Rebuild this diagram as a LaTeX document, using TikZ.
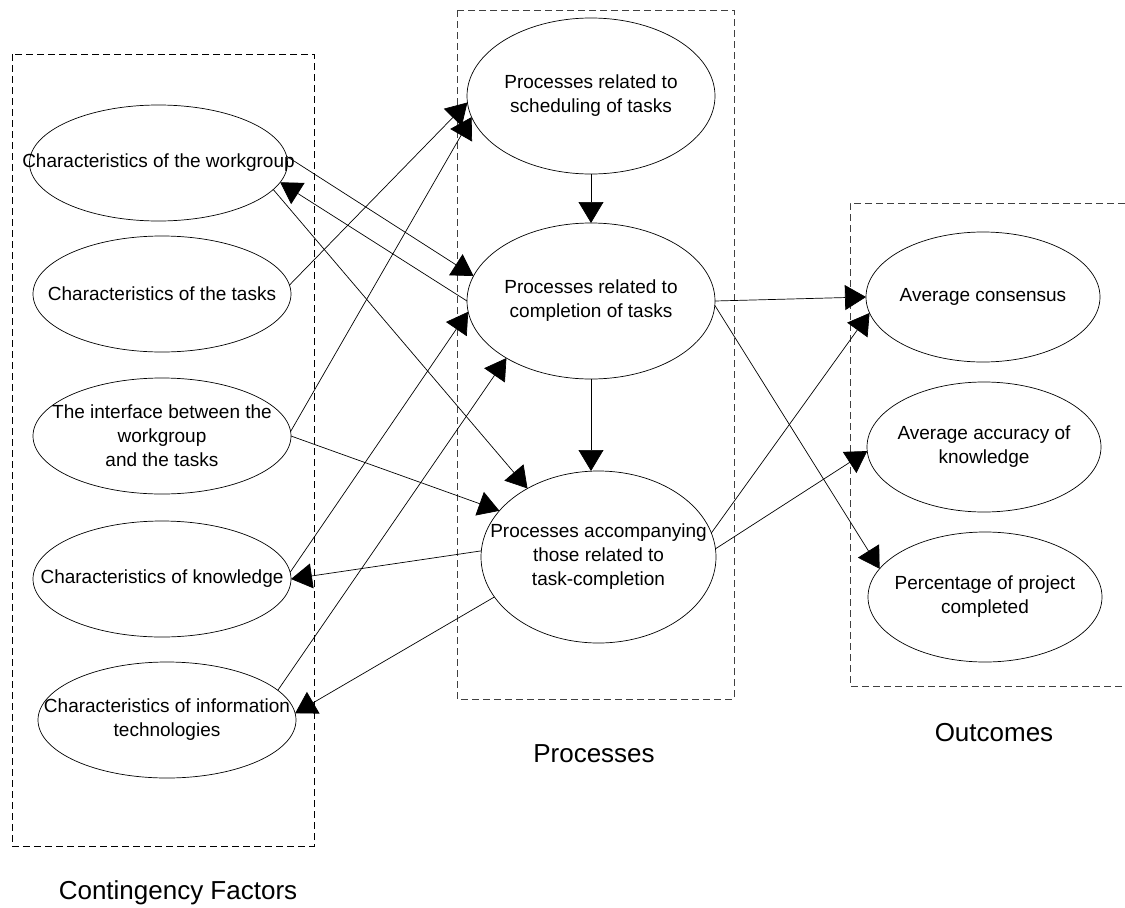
\documentclass[tikz,border=0pt]{standalone}
\usepackage{fontspec}
\setmainfont{Liberation Sans}
\usetikzlibrary{shapes.geometric,arrows.meta}
\begin{document}
\begin{tikzpicture}[x=1pt,y=-1pt]
\tikzset{
 ell/.style={ellipse, draw, line width=0.7pt, inner sep=0pt, outer sep=0pt},
 lft/.style={ell, minimum width=258pt, minimum height=116pt},
 prc/.style={ell, minimum width=248pt, minimum height=156pt},
 outc/.style={ell, minimum width=234pt, minimum height=130pt},
 txt/.style={font=\fontsize{19}{24}\selectfont, align=center, inner sep=0pt},
 grp/.style={font=\fontsize{26}{30}\selectfont, inner sep=0pt, anchor=base},
 dbox/.style={draw, dash pattern=on 7pt off 4pt, line width=0.8pt},
 con/.style={line width=0.7pt, -{Triangle[length=21pt,width=25pt]}},
}
\useasboundingbox (0,0) rectangle (1125,908);
% group boxes
\draw[dbox] (12,54) rectangle (314,846);
\draw[dbox, black!75] (457,10) rectangle (734,699);
\draw[dbox, black!75] (1125,203) -- (850,203) -- (850,686) -- (1125,686);
% contingency factors
\node[lft, label={[txt]center:Characteristics of the workgroup}] (W) at (158.5,163) {};
\node[lft, label={[txt]center:Characteristics of the tasks}] (T) at (162,294) {};
\node[lft, label={[txt]center:{The interface between the\\workgroup\\and the tasks}}] (I) at (162,436) {};
\node[lft, label={[txt]center:Characteristics of knowledge}] (K) at (162,579) {};
\node[lft, label={[txt]center:{Characteristics of information\\technologies}}] (IT) at (167,720) {};
% processes
\node[prc, label={[txt]center:{Processes related to\\scheduling of tasks}}] (S) at (591,96) {};
\node[prc, label={[txt]center:{Processes related to\\completion of tasks}}] (C) at (591,301) {};
\node[ell, minimum width=235pt, minimum height=172pt, label={[txt]center:{Processes accompanying\\those related to\\task-completion}}] (A) at (598.5,557) {};
% outcomes
\node[outc, label={[txt]center:Average consensus}] (AC) at (983,297) {};
\node[outc, label={[txt]center:{Average accuracy of\\knowledge}}] (AK) at (984,447) {};
\node[outc, label={[txt]center:{Percentage of project\\completed}}] (P) at (985,597) {};
% group labels
\node[grp] (lcf) at (178,899) {Contingency Factors};
\node[grp] (lpr) at (594,762) {Processes};
\node[grp] (lou) at (994,741) {Outcomes};
% connectors
\draw[con] (W.3) -- (C.168);
\draw[con] (C.west) -- (W.-9);
\draw[con] (W.-13) -- (A.136);
\draw[con] (T.4) -- (S.183);
\draw[con] (I.2) -- (S.190);
\draw[con] (I.east) -- (A.155);
\draw[con] (K.3) -- (C.185);
\draw[con] (A.177) -- (K.east);
\draw[con] (IT.15) -- (C.214);
\draw[con] (A.201) -- (IT.3);
\draw[con] (S.south) -- (C.north);
\draw[con] (C.south) -- (C.south |- A.north);
\draw[con] (C.east) -- (AC.west);
\draw[con] (C.-2) -- (P.165);
\draw[con] (A.12) -- (AC.188);
\draw[con] (A.4) -- (AK.182);
\end{tikzpicture}
\end{document}
